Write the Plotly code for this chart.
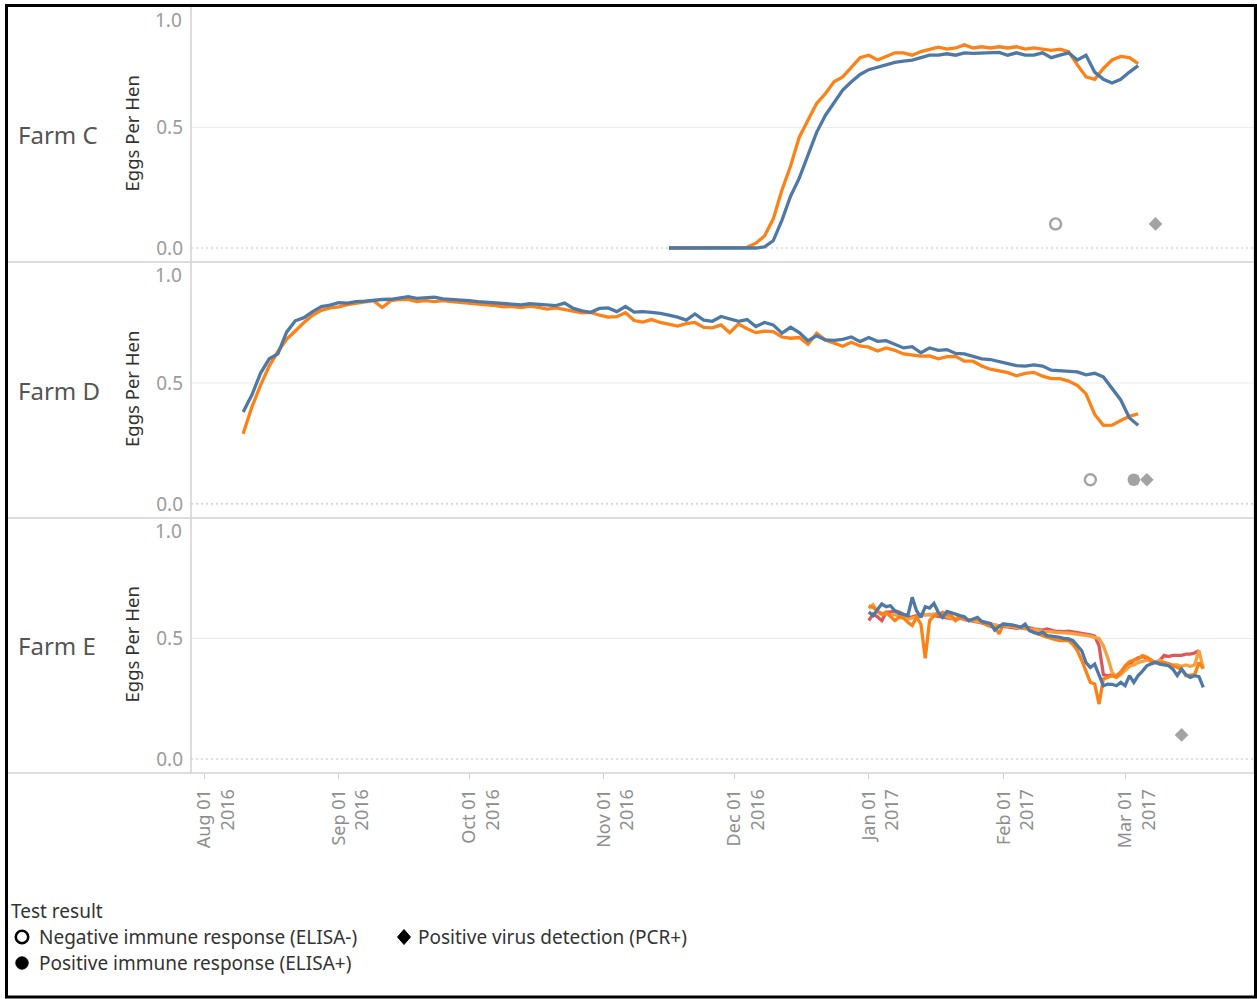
import pandas as pd
import plotly.graph_objects as go

W, H = 1257, 999

# ---------------- data ----------------
farms = ["Farm C", "Farm D", "Farm E"]

# Farm C: one value every 2 days starting 2016-11-16
farm_c_start = "2016-11-16"
farm_c_orange = [0, 0, 0, 0, 0, 0, 0, 0, 0, 0.003,
                 0.02, 0.05, 0.12, 0.24, 0.34, 0.46, 0.53, 0.60, 0.64, 0.69,
                 0.71, 0.75, 0.79, 0.80, 0.78, 0.795, 0.81, 0.81, 0.80, 0.815,
                 0.825, 0.833, 0.825, 0.83, 0.843, 0.83, 0.835, 0.83, 0.835, 0.83,
                 0.835, 0.825, 0.83, 0.825, 0.82, 0.825, 0.815, 0.76, 0.71, 0.70,
                 0.745, 0.78, 0.795, 0.79, 0.765]
farm_c_blue = [0, 0, 0, 0, 0, 0, 0, 0, 0, 0,
               0, 0.005, 0.03, 0.115, 0.215, 0.29, 0.39, 0.48, 0.55, 0.60,
               0.655, 0.69, 0.72, 0.74, 0.75, 0.76, 0.77, 0.775, 0.78, 0.79,
               0.80, 0.80, 0.806, 0.80, 0.81, 0.808, 0.81, 0.81, 0.812, 0.80,
               0.81, 0.80, 0.80, 0.81, 0.79, 0.80, 0.81, 0.78, 0.80, 0.73,
               0.70, 0.685, 0.70, 0.73, 0.757]

# Farm D: one value every 2 days starting 2016-08-10
farm_d_start = "2016-08-10"
farm_d_orange = [0.29, 0.40, 0.49, 0.57, 0.63, 0.68, 0.715, 0.75, 0.78, 0.80,
                 0.81, 0.815, 0.824, 0.83, 0.836, 0.84, 0.812, 0.84, 0.846, 0.845,
                 0.836, 0.84, 0.836, 0.84, 0.836, 0.833, 0.83, 0.828, 0.823, 0.82,
                 0.815, 0.816, 0.812, 0.818, 0.812, 0.805, 0.81, 0.804, 0.798, 0.79,
                 0.792, 0.78, 0.772, 0.774, 0.79, 0.758, 0.752, 0.762, 0.75, 0.742,
                 0.735, 0.745, 0.75, 0.73, 0.728, 0.74, 0.708, 0.744, 0.724, 0.708,
                 0.714, 0.712, 0.69, 0.685, 0.688, 0.66, 0.705, 0.678, 0.665, 0.652,
                 0.668, 0.653, 0.648, 0.632, 0.645, 0.635, 0.62, 0.617, 0.611, 0.612,
                 0.60, 0.609, 0.61, 0.59, 0.59, 0.57, 0.557, 0.55, 0.543, 0.53,
                 0.54, 0.544, 0.528, 0.518, 0.518, 0.508, 0.49, 0.455, 0.37, 0.325,
                 0.326, 0.345, 0.362, 0.373]
farm_d_blue = [0.38, 0.45, 0.54, 0.60, 0.62, 0.71, 0.757, 0.77, 0.795, 0.816,
               0.822, 0.832, 0.83, 0.836, 0.838, 0.842, 0.845, 0.846, 0.852, 0.857,
               0.85, 0.852, 0.855, 0.848, 0.846, 0.843, 0.84, 0.836, 0.834, 0.832,
               0.828, 0.825, 0.823, 0.828, 0.826, 0.822, 0.82, 0.83, 0.808, 0.798,
               0.792, 0.808, 0.81, 0.795, 0.816, 0.793, 0.795, 0.792, 0.788, 0.78,
               0.772, 0.76, 0.785, 0.76, 0.755, 0.775, 0.765, 0.755, 0.762, 0.733,
               0.75, 0.74, 0.706, 0.73, 0.708, 0.675, 0.695, 0.678, 0.676, 0.68,
               0.69, 0.671, 0.688, 0.672, 0.675, 0.66, 0.645, 0.65, 0.625, 0.645,
               0.635, 0.638, 0.622, 0.62, 0.61, 0.60, 0.597, 0.59, 0.58, 0.572,
               0.57, 0.575, 0.57, 0.553, 0.55, 0.548, 0.546, 0.534, 0.54, 0.525,
               0.48, 0.43, 0.355, 0.325]

# Farm E: daily values starting 2017-01-01
farm_e_start = "2017-01-01"
farm_e_red = [0.574, 0.602, 0.59, 0.574, 0.609, 0.61, 0.615, 0.61, 0.60, 0.588,
              0.59, 0.595, 0.60, 0.598, 0.60, 0.595, 0.592, 0.59, 0.588, 0.585,
              0.58, 0.585, 0.578, 0.575, 0.572, 0.57, 0.565, 0.56, 0.562, 0.555,
              0.553, 0.55, 0.55, 0.545, 0.542, 0.545, 0.54, 0.545, 0.54, 0.538,
              0.535, 0.54, 0.535, 0.53, 0.53, 0.528, 0.53, 0.527, 0.525, 0.522,
              0.52, 0.515, 0.51, 0.47, 0.35, 0.345, 0.35, 0.345, 0.36, 0.38,
              0.39, 0.41, 0.42, 0.425, 0.42, 0.41, 0.40, 0.41, 0.43, 0.425,
              0.43, 0.43, 0.43, 0.435, 0.435, 0.44, 0.45]
farm_e_orange2 = [0.625, 0.64, 0.61, 0.60, 0.605, 0.595, 0.60, 0.59, 0.595, 0.58,
                  0.585, 0.59, 0.595, 0.60, 0.598, 0.60, 0.605, 0.598, 0.59, 0.585,
                  0.583, 0.59, 0.58, 0.578, 0.575, 0.57, 0.568, 0.565, 0.56, 0.555,
                  0.552, 0.555, 0.55, 0.55, 0.545, 0.548, 0.542, 0.54, 0.538, 0.535,
                  0.53, 0.53, 0.528, 0.525, 0.525, 0.522, 0.522, 0.52, 0.518, 0.515,
                  0.515, 0.51, 0.505, 0.50, 0.47, 0.42, 0.36, 0.34, 0.35, 0.37,
                  0.385, 0.39, 0.40, 0.405, 0.41, 0.405, 0.40, 0.41, 0.40, 0.395,
                  0.39, 0.39, 0.385, 0.39, 0.385, 0.39, 0.45, 0.375]
farm_e_orange = [0.636, 0.629, 0.615, 0.602, 0.609, 0.59, 0.574, 0.588, 0.585, 0.567,
                 0.554, 0.588, 0.56, 0.418, 0.574, 0.595, 0.60, 0.609, 0.60, 0.595,
                 0.574, 0.588, 0.585, 0.574, 0.578, 0.581, 0.57, 0.557, 0.55, 0.546,
                 0.519, 0.56, 0.555, 0.552, 0.549, 0.549, 0.546, 0.535, 0.526, 0.52,
                 0.512, 0.505, 0.50, 0.495, 0.491, 0.491, 0.491, 0.475, 0.45, 0.41,
                 0.36, 0.318, 0.311, 0.228, 0.332, 0.34, 0.346, 0.339, 0.36, 0.387,
                 0.404, 0.41, 0.415, 0.429, 0.422, 0.41, 0.401, 0.40, 0.401, 0.395,
                 0.387, 0.38, 0.373, 0.346, 0.348, 0.35, 0.40, 0.375]
farm_e_blue = [0.61, 0.595, 0.62, 0.643, 0.632, 0.636, 0.615, 0.604, 0.60, 0.595,
               0.671, 0.615, 0.588, 0.632, 0.626, 0.646, 0.609, 0.588, 0.612, 0.605,
               0.601, 0.595, 0.59, 0.574, 0.58, 0.588, 0.571, 0.565, 0.562, 0.535,
               0.55, 0.56, 0.56, 0.557, 0.552, 0.546, 0.56, 0.533, 0.525, 0.519,
               0.526, 0.512, 0.51, 0.508, 0.505, 0.50, 0.498, 0.491, 0.47, 0.45,
               0.40, 0.38, 0.394, 0.346, 0.304, 0.311, 0.31, 0.304, 0.318, 0.304,
               0.346, 0.318, 0.346, 0.365, 0.387, 0.395, 0.401, 0.394, 0.39, 0.387,
               0.373, 0.346, 0.373, 0.35, 0.339, 0.346, 0.342, 0.297]

# Test results (markers)
test_farm = ["Farm C", "Farm C", "Farm D", "Farm D", "Farm D", "Farm E"]
test_date = ["2017-02-13", "2017-03-08", "2017-02-21", "2017-03-03", "2017-03-06", "2017-03-14"]
test_value = [0.1, 0.1, 0.1, 0.1, 0.1, 0.1]
test_result = ["ELISA-", "PCR+", "ELISA-", "ELISA+", "PCR+", "PCR+"]

tick_dates = ["2016-08-01", "2016-09-01", "2016-10-01", "2016-11-01",
              "2016-12-01", "2017-01-01", "2017-02-01", "2017-03-01"]
tick_text = ["Aug 01<br>2016", "Sep 01<br>2016", "Oct 01<br>2016", "Nov 01<br>2016",
             "Dec 01<br>2016", "Jan 01<br>2017", "Feb 01<br>2017", "Mar 01<br>2017"]

legend_labels = ["Negative immune response (ELISA-)", "Positive virus detection (PCR+)",
                 "Positive immune response (ELISA+)"]

# ---------------- styling ----------------
BLUE = "#4E79A7"
ORANGE = "#FC8217"
ORANGE2 = "#F7A03F"
RED = "#E15759"
MARK = "#A3A3A3"
FONT = "Noto Sans"

def px(xp):
    return xp / W

def py(yp):
    return 1 - yp / H

panel_top = [7, 262, 518]
panel_bot = [262, 518, 773]
x_dom = [px(191), px(1254)]
x_range = ["2016-07-29", "2017-03-30 16:00"]
y_range = [-0.058, 1.0]

def dates(start, n, freq):
    return pd.date_range(start, periods=n, freq=freq)

series = [
    (0, farm_c_start, "2D", [(farm_c_orange, ORANGE), (farm_c_blue, BLUE)]),
    (1, farm_d_start, "2D", [(farm_d_orange, ORANGE), (farm_d_blue, BLUE)]),
    (2, farm_e_start, "D", [(farm_e_red, RED), (farm_e_orange2, ORANGE2),
                            (farm_e_orange, ORANGE), (farm_e_blue, BLUE)]),
]

fig = go.Figure()

def axnames(i):
    s = "" if i == 0 else str(i + 1)
    return "x" + s, "y" + s

for i, start, freq, lines in series:
    xa, ya = axnames(i)
    for vals, col in lines:
        fig.add_trace(go.Scatter(
            x=dates(start, len(vals), freq), y=vals, mode="lines",
            line=dict(color=col, width=3.3), xaxis=xa, yaxis=ya,
            showlegend=False, hoverinfo="skip"))

symbol_map = {"ELISA-": ("circle-open", 11), "ELISA+": ("circle", 12.5), "PCR+": ("diamond", 10.5)}
for fi, farm in enumerate(farms):
    xa, ya = axnames(fi)
    for res in ["ELISA-", "ELISA+", "PCR+"]:
        xs = [d for f, d, r in zip(test_farm, test_date, test_result) if f == farm and r == res]
        ys = [v for f, v, r in zip(test_farm, test_value, test_result) if f == farm and r == res]
        if not xs:
            continue
        sym, size = symbol_map[res]
        fig.add_trace(go.Scatter(
            x=xs, y=ys, mode="markers", xaxis=xa, yaxis=ya, showlegend=False,
            marker=dict(symbol=sym, size=size, color=MARK,
                        line=dict(color=MARK, width=2.4 if res == "ELISA-" else 0)),
            hoverinfo="skip"))

layout = dict(
    width=W, height=H, margin=dict(l=0, r=0, t=0, b=0),
    paper_bgcolor="white", plot_bgcolor="rgba(0,0,0,0)", showlegend=False,
    font=dict(family=FONT, color="#333"),
)

shapes = []
annotations = []
for i in range(3):
    xa, ya = axnames(i)
    xkey = "xaxis" + xa[1:]
    ykey = "yaxis" + ya[1:]
    bottom = (i == 2)
    layout[xkey] = dict(
        domain=x_dom, range=x_range, type="date", anchor=ya,
        showgrid=False, zeroline=False, showline=False,
        showticklabels=bottom, ticks="outside" if bottom else "",
        tickvals=tick_dates, ticktext=tick_text, tickangle=-90,
        ticklen=5, tickcolor="#CFCFCF", tickwidth=1,
        tickfont=dict(family=FONT, size=18, color="#8E8E8E"),
        ticklabelshift=12, ticklabelstandoff=3,
    )
    layout[ykey] = dict(
        domain=[py(panel_bot[i]), py(panel_top[i])], range=y_range, anchor=xa,
        showgrid=False, zeroline=False, showline=False, ticks="",
        tickvals=[0, 0.5], ticktext=["0.0", "0.5"],
        tickfont=dict(family=FONT, size=19, color="#9B9B9B"),
        ticklabelstandoff=7,
    )
    xd = xa + " domain"
    shapes.append(dict(type="line", xref=xd, yref=ya, x0=0, x1=1, y0=0.5, y1=0.5,
                       line=dict(color="#EBEBEB", width=1), layer="below"))
    shapes.append(dict(type="line", xref=xd, yref=ya, x0=0, x1=1, y0=0, y1=0,
                       line=dict(color="#C4C4C4", width=1.2, dash="2px,3px"), layer="below"))
    mid = (panel_top[i] + panel_bot[i]) / 2
    annotations.append(dict(text=farms[i], xref="paper", yref="paper", x=px(16), y=py(mid),
                            xanchor="left", yanchor="middle", showarrow=False,
                            font=dict(family=FONT, size=24, color="#555555")))
    annotations.append(dict(text="Eggs Per Hen", xref="paper", yref="paper", x=px(131), y=py(mid - 1),
                            xanchor="center", yanchor="middle", textangle=-90, showarrow=False,
                            font=dict(family=FONT, size=18.5, color="#333333")))
    annotations.append(dict(text="1.0", xref="paper", yref=ya, x=px(184), y=1.0,
                            xanchor="right", yanchor="middle", yshift=-13, showarrow=False,
                            font=dict(family=FONT, size=19, color="#9B9B9B")))

# panel separators / frame lines
for yy in [262, 518, 773]:
    shapes.append(dict(type="line", xref="paper", yref="paper", x0=px(7), x1=px(1255),
                       y0=py(yy), y1=py(yy), line=dict(color="#D2D2D2", width=1.5)))
shapes.append(dict(type="line", xref="paper", yref="paper", x0=px(191), x1=px(191),
                   y0=py(773), y1=py(5), line=dict(color="#D2D2D2", width=1.5)))
shapes.append(dict(type="line", xref="paper", yref="paper", x0=px(1254), x1=px(1254),
                   y0=py(773), y1=py(5), line=dict(color="#DCDCDC", width=1.5)))
shapes.append(dict(type="rect", xref="paper", yref="paper", x0=px(6.5), x1=px(1255.5),
                   y0=py(997), y1=py(5.5), line=dict(color="black", width=3)))

# legend (manual)
annotations.append(dict(text="Test result", xref="paper", yref="paper", x=px(9), y=py(911),
                        xanchor="left", yanchor="middle", showarrow=False,
                        font=dict(family=FONT, size=19, color="#333333")))
leg_items = [(22, 937, "open", legend_labels[0], 37),
             (404, 937, "diamond", legend_labels[1], 416),
             (22, 963, "filled", legend_labels[2], 37)]
for cx, cy, kind, label, tx in leg_items:
    r = 6.2
    if kind == "open":
        shapes.append(dict(type="circle", xref="paper", yref="paper",
                           x0=px(cx - r), x1=px(cx + r), y0=py(cy + r), y1=py(cy - r),
                           line=dict(color="black", width=2.6), fillcolor="white"))
    elif kind == "filled":
        shapes.append(dict(type="circle", xref="paper", yref="paper",
                           x0=px(cx - r), x1=px(cx + r), y0=py(cy + r), y1=py(cy - r),
                           line=dict(color="black", width=1), fillcolor="black"))
    else:
        hw, hh = 6.5, 7.5
        path = "M {} {} L {} {} L {} {} L {} {} Z".format(
            px(cx), py(cy - hh), px(cx + hw), py(cy), px(cx), py(cy + hh), px(cx - hw), py(cy))
        shapes.append(dict(type="path", xref="paper", yref="paper", path=path,
                           line=dict(color="black", width=1), fillcolor="black"))
    annotations.append(dict(text=label, xref="paper", yref="paper", x=px(tx), y=py(cy),
                            xanchor="left", yanchor="middle", showarrow=False,
                            font=dict(family=FONT, size=19, color="#333333")))

layout["shapes"] = shapes
layout["annotations"] = annotations
fig.update_layout(**layout)

fig.write_html("out.html", config={"displayModeBar": False},
               post_script="document.body.style.margin='0px';document.body.style.overflow='hidden';")
